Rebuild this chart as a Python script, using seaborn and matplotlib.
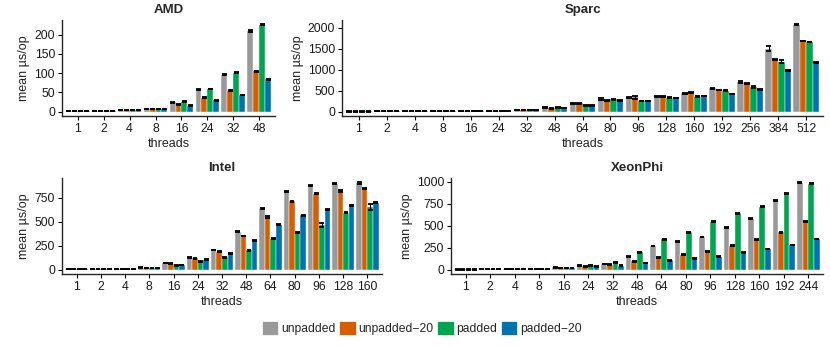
import matplotlib
matplotlib.use("Agg")
import matplotlib.pyplot as plt
import numpy as np
import pandas as pd
import seaborn as sns
from matplotlib.patches import Patch

series = ["unpadded", "unpadded−20", "padded", "padded−20"]
colors = ["#999999", "#D55E00", "#00A550", "#0072B2"]

# ---- AMD ----
amd_threads = [1, 2, 4, 8, 16, 24, 32, 48]
amd_unpadded = [1, 2, 4, 8, 24, 57, 96, 210]
amd_unpadded20 = [1, 2, 3, 7, 19, 36, 54, 105]
amd_padded = [1, 2, 4, 7, 26, 59, 101, 226]
amd_padded20 = [1, 2, 4, 7, 15, 29, 43, 84]
amd_err_unpadded = [0, 0, 0, 0, 1, 1, 1, 3]
amd_err_unpadded20 = [0, 0, 0, 0, 1, 1, 1, 1]
amd_err_padded = [0, 0, 0, 0, 1, 1, 1, 1]
amd_err_padded20 = [0, 0, 0, 0, 1, 1, 1, 1]
amd_yticks = [0, 50, 100, 150, 200]

# ---- Sparc ----
sparc_threads = [1, 2, 4, 8, 16, 24, 32, 48, 64, 80, 96, 128, 160, 192, 256, 384, 512]
sparc_unpadded = [4, 6, 8, 10, 14, 20, 38, 95, 190, 305, 340, 360, 435, 560, 705, 1500, 2075]
sparc_unpadded20 = [4, 6, 8, 10, 14, 20, 38, 80, 200, 270, 340, 370, 455, 515, 670, 1245, 1685]
sparc_padded = [4, 6, 8, 10, 14, 20, 36, 105, 145, 290, 250, 330, 355, 500, 590, 1195, 1660]
sparc_padded20 = [4, 6, 8, 10, 14, 20, 36, 88, 150, 265, 250, 325, 370, 420, 530, 975, 1170]
sparc_err_unpadded = [2, 2, 2, 2, 2, 2, 4, 8, 10, 22, 20, 10, 10, 10, 25, 55, 8]
sparc_err_unpadded20 = [2, 2, 2, 2, 2, 2, 4, 8, 10, 10, 30, 10, 10, 10, 10, 15, 8]
sparc_err_padded = [2, 2, 2, 2, 2, 2, 4, 8, 8, 10, 8, 8, 8, 8, 15, 40, 8]
sparc_err_padded20 = [2, 2, 2, 2, 2, 2, 4, 8, 8, 8, 8, 8, 8, 8, 8, 8, 8]
sparc_yticks = [0, 500, 1000, 1500, 2000]

# ---- Intel ----
intel_threads = [1, 2, 4, 8, 16, 24, 32, 48, 64, 80, 96, 128, 160]
intel_unpadded = [3, 5, 8, 22, 68, 128, 205, 394, 633, 812, 873, 892, 902]
intel_unpadded20 = [3, 5, 8, 20, 62, 118, 185, 350, 548, 710, 791, 818, 845]
intel_padded = [3, 5, 7, 17, 45, 85, 127, 202, 322, 390, 465, 593, 650]
intel_padded20 = [3, 5, 7, 17, 50, 103, 168, 305, 466, 568, 624, 665, 698]
intel_err_unpadded = [1, 1, 1, 2, 3, 4, 4, 5, 6, 6, 6, 6, 6]
intel_err_unpadded20 = [1, 1, 1, 2, 3, 4, 4, 5, 6, 6, 6, 6, 4]
intel_err_padded = [1, 1, 1, 2, 3, 4, 4, 5, 5, 5, 20, 5, 28]
intel_err_padded20 = [1, 1, 1, 2, 3, 4, 4, 5, 6, 5, 5, 5, 4]
intel_yticks = [0, 250, 500, 750]

# ---- XeonPhi ----
xeon_threads = [1, 2, 4, 8, 16, 24, 32, 48, 64, 80, 96, 128, 160, 192, 244]
xeon_unpadded = [2, 3, 5, 10, 26, 48, 65, 145, 268, 315, 370, 480, 580, 780, 985]
xeon_unpadded20 = [2, 3, 5, 10, 20, 38, 55, 95, 138, 168, 203, 272, 345, 425, 550]
xeon_padded = [2, 3, 5, 10, 20, 50, 85, 195, 345, 423, 545, 640, 712, 862, 978]
xeon_padded20 = [2, 3, 5, 10, 20, 33, 45, 75, 108, 125, 145, 190, 235, 280, 348]
xeon_err_unpadded = [1, 1, 1, 2, 3, 4, 4, 5, 5, 5, 5, 6, 6, 6, 6]
xeon_err_unpadded20 = [1, 1, 1, 2, 3, 4, 4, 5, 5, 5, 5, 5, 5, 5, 5]
xeon_err_padded = [1, 1, 1, 2, 3, 4, 4, 5, 5, 5, 5, 5, 5, 5, 5]
xeon_err_padded20 = [1, 1, 1, 2, 3, 4, 4, 5, 5, 5, 5, 5, 5, 5, 5]
xeon_yticks = [0, 250, 500, 750, 1000]

sns.set_theme(style="ticks")
plt.rcParams["font.family"] = ["Liberation Sans", "DejaVu Sans"]
plt.rcParams["axes.linewidth"] = 1.0

fig = plt.figure(figsize=(8.3, 3.46), dpi=100)

W, H = 830.0, 346.0


def add_axes(x0, x1, ytop, ybot):
    return fig.add_axes([x0 / W, 1 - ybot / H, (x1 - x0) / W, (ybot - ytop) / H])


def draw(ax, title, threads, vals, errs, yticks):
    cats = [str(t) for t in threads]
    rows = []
    for s, v in zip(series, vals):
        for c, val in zip(cats, v):
            rows.append({"threads": c, "value": val, "series": s})
    df = pd.DataFrame(rows)
    sns.barplot(data=df, x="threads", y="value", hue="series", order=cats,
                hue_order=series, palette=colors, width=0.92, errorbar=None,
                edgecolor="white", linewidth=0.3, saturation=1.0, ax=ax,
                legend=False)
    for cont, e in zip(ax.containers, errs):
        for bar, err in zip(cont, e):
            x0 = bar.get_x()
            w = bar.get_width()
            h = bar.get_height()
            ax.hlines([h - err, h + err], x0 + 0.015, x0 + w - 0.015,
                      color="black", lw=1.3, zorder=5)
            ax.vlines(x0 + w / 2, h - err, h + err, color="black", lw=0.8,
                      zorder=5)
    top = max(max(np.array(v) + np.array(e)) for v, e in zip(vals, errs))
    ax.set_ylim(-0.05 * top, 1.05 * top)
    ax.set_xlim(-0.6, len(cats) - 0.4)
    ax.set_yticks(yticks)
    ax.set_title(title, fontsize=9.5, fontweight="bold", pad=5)
    ax.set_xlabel("threads", fontsize=9, color="#222222", labelpad=2)
    ax.set_ylabel("mean µs/op", fontsize=9, color="#222222", labelpad=3)
    ax.tick_params(axis="both", labelsize=8.8, length=3, width=0.8,
                   colors="black", pad=2)
    for lab in ax.get_xticklabels() + ax.get_yticklabels():
        lab.set_color("#1a1a1a")
    sns.despine(ax=ax)
    ax.spines["left"].set_linewidth(1.0)
    ax.spines["bottom"].set_linewidth(1.0)


ax1 = add_axes(62, 275, 20, 116)
draw(ax1, "AMD", amd_threads,
     [amd_unpadded, amd_unpadded20, amd_padded, amd_padded20],
     [amd_err_unpadded, amd_err_unpadded20, amd_err_padded, amd_err_padded20],
     amd_yticks)

ax2 = add_axes(342, 823, 20, 116)
draw(ax2, "Sparc", sparc_threads,
     [sparc_unpadded, sparc_unpadded20, sparc_padded, sparc_padded20],
     [sparc_err_unpadded, sparc_err_unpadded20, sparc_err_padded, sparc_err_padded20],
     sparc_yticks)

ax3 = add_axes(62, 382, 178, 274)
draw(ax3, "Intel", intel_threads,
     [intel_unpadded, intel_unpadded20, intel_padded, intel_padded20],
     [intel_err_unpadded, intel_err_unpadded20, intel_err_padded, intel_err_padded20],
     intel_yticks)

ax4 = add_axes(451, 823, 178, 274)
draw(ax4, "XeonPhi", xeon_threads,
     [xeon_unpadded, xeon_unpadded20, xeon_padded, xeon_padded20],
     [xeon_err_unpadded, xeon_err_unpadded20, xeon_err_padded, xeon_err_padded20],
     xeon_yticks)

handles = [Patch(facecolor=c, edgecolor="white", linewidth=0.5) for c in colors]
fig.legend(handles, series, loc="center", bbox_to_anchor=(422 / W, 1 - 328 / H),
           ncol=4, frameon=False, fontsize=8.7, handlelength=1.35,
           handleheight=1.35, handletextpad=0.25, columnspacing=0.3,
           borderaxespad=0)

fig.savefig("out.png", dpi=100)
